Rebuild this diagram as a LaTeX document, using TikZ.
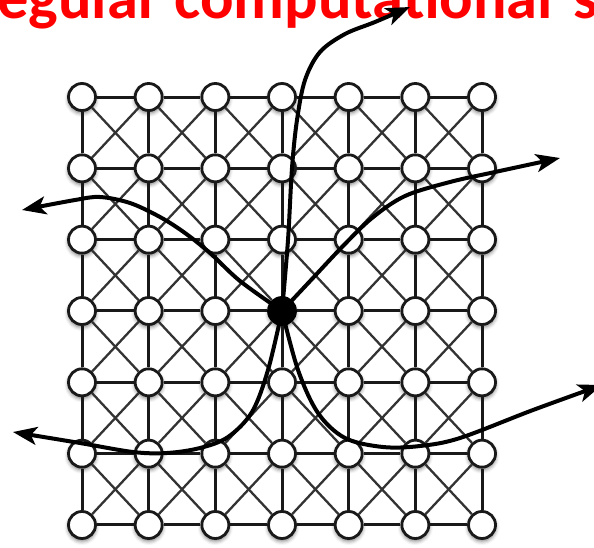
\documentclass[tikz,border=0pt]{standalone}
\usepackage{fontspec}
\setmainfont{Carlito}
\usetikzlibrary{arrows.meta,shadows.blur}
\begin{document}
\begin{tikzpicture}[x=1pt,y=-1pt,
 dot/.style={circle,draw=black!90,line width=2.8pt,fill=white,minimum size=27pt,inner sep=0pt,
   blur shadow={shadow xshift=0pt,shadow yshift=-2.5pt,shadow blur radius=4pt,shadow opacity=55}},
 hub/.style={fill=black,draw=black},
 n33/.style={hub},
 gridline/.style={line width=3pt,draw=black!90},
 diag/.style={line width=2.3pt,draw=black!80},
 flow/.style={line width=4pt,-{Stealth[length=24pt,width=18pt,inset=6pt]}},
 title/.style={text=red,font=\fontsize{62.5}{62.5}\selectfont\bfseries,anchor=base west,inner sep=0pt}]
\useasboundingbox (0,0) rectangle (594,547);
\clip (0,0) rectangle (594,547);
\node[title] (t) at (-3,18) {egular computational\hspace{6pt} s};
% grid nodes
\foreach \i in {0,...,6}{
  \foreach \j in {0,...,6}{
    \node[dot,n\i\j/.try] (n\i\j) at ({82+66.67*\i},{97+71.33*\j}) {};
  }
}
% grid lines
\foreach \i in {0,...,5}{
  \pgfmathtruncatemacro{\ii}{\i+1}
  \foreach \j in {0,...,6}{
    \draw[gridline] (n\i\j) -- (n\ii\j);
    \draw[gridline] (n\j\i) -- (n\j\ii);
  }
  \foreach \j in {0,...,5}{
    \pgfmathtruncatemacro{\jj}{\j+1}
    \draw[diag] (n\i\j) -- (n\ii\jj);
    \draw[diag] (n\ii\j) -- (n\i\jj);
  }
}
% free ends of the flows
\coordinate (eUp) at (410,7);
\coordinate (eUL) at (22,210);
\coordinate (eUR) at (560,158);
\coordinate (eLL) at (13,432);
\coordinate (eLR) at (602,385);
\draw[flow] plot[smooth,tension=0.55] coordinates {(n33.center) (288,240) (292,168) (297,120) (305,80) (320,52) (345,34) (375,22) (eUp)};
\draw[flow] plot[smooth,tension=0.55] coordinates {(n33.center) (240,281) (210,253) (185,233) (160,217) (130,203) (100,197) (75,200) (eUL)};
\draw[flow] plot[smooth,tension=0.55] coordinates {(n33.center) (312,279) (343,246) (372,218) (405,196) (450,182) (495,172) (eUR)};
\draw[flow] plot[smooth,tension=0.55] coordinates {(n33.center) (268,370) (252,412) (228,437) (200,448) (167,453) (133,452) (80,443) (eLL)};
\draw[flow] plot[smooth,tension=0.55] coordinates {(n33.center) (298,370) (318,413) (345,438) (383,447) (420,446) (460,438) (533,410) (eLR)};
\end{tikzpicture}
\end{document}
